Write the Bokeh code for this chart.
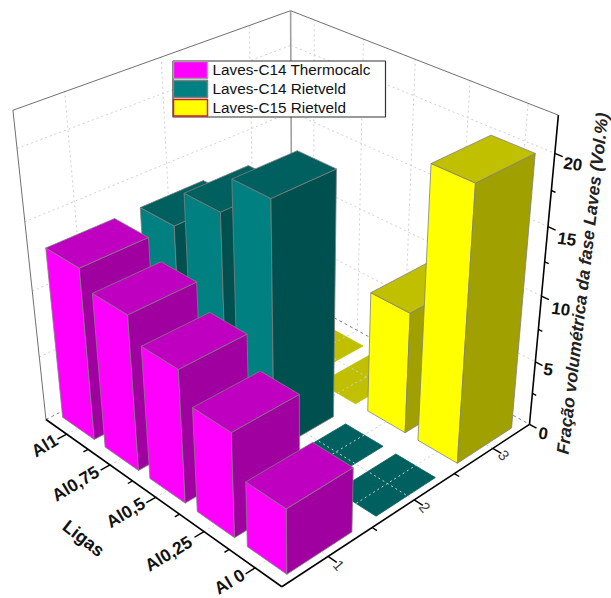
import numpy as np
from bokeh.plotting import figure
from bokeh.embed import file_html
from bokeh.resources import INLINE
from bokeh.core.properties import value

alloys = ["Al 0", "Al0,25", "Al0,5", "Al0,75", "Al1"]
columns = ["1", "2", "3"]
thermocalc = [4.9, 7.85, 10, 11.7, 13]
c14_rietveld = [0, 0, 18.5, 15.8, 13]
c15_rietveld = [20.2, 9.3, 0, 0, 0]
z_ticks = [0, 5, 10, 15, 20]
BAR = 0.75
BAR_U = 0.72
U0, U1, V0, V1, W1 = 0.5, 3.5, 0.5, 5.5, 22.5

cal3 = np.array([(U0,V0,0),(U1,V0,0),(U0,V1,0),(U0,V1,W1),(U1,V0,W1),(U1,V1,W1),
    (U1,V0,5),(U1,V0,10),(U1,V0,15),(U1,V0,20),(U0+.125,V0+.125,0),(3-.375,1-.375,0)],float)
cal2 = np.array([(279,587),(528,423),(45,419),(13,110),(558,113),(290,10),
    (535,362),(541,297),(547,227),(554,153),(288,573),(459,462)],float)
A=[];b=[]
for (X,Y,Z),(px,py) in zip(cal3,cal2):
    A.append([X,Y,Z,1,0,0,0,0,-px*X,-px*Y,-px*Z]);b.append(px)
    A.append([0,0,0,0,X,Y,Z,1,-py*X,-py*Y,-py*Z]);b.append(py)
h=np.linalg.lstsq(np.array(A),np.array(b),rcond=None)[0]
M=np.append(h,1).reshape(3,4)
def P(u,v,w=0):
    q=M@np.array([u,v,w,1.0])
    return q[0]/q[2],q[1]/q[2]

p=figure(width=611,height=598,x_range=(0,611),y_range=(598,0),output_backend="svg",toolbar_location=None,min_border=0)
p.xaxis.visible=False;p.yaxis.visible=False;p.xgrid.visible=False;p.ygrid.visible=False;p.outline_line_color=None

def seg(pts,color,width=1,dash="solid",alpha=1):
    xs=[[P(*a)[0],P(*c)[0]] for a,c in pts]; ys=[[P(*a)[1],P(*c)[1]] for a,c in pts]
    p.multi_line(xs,ys,line_color=color,line_width=width,line_dash=dash,line_alpha=alpha)

GRID="#d0d0d0"
wall=[]
for w in z_ticks[1:]:
    wall+= [((U0,V1,w),(U1,V1,w)),((U1,V1,w),(U1,V0,w))]
for i in range(1,4): wall.append(((i,V1,0),(i,V1,W1)))
for i in range(1,6): wall.append(((U1,i,0),(U1,i,W1)))
seg(wall,GRID,1,"2 3")
seg([((U0,V1,0),(U1,V1,0)),((U1,V1,0),(U1,V0,0))],"#808080",1,"3 3")
seg([((U0,V1,0),(U0,V1,W1)),((U0,V1,W1),(U1,V1,W1)),((U1,V1,W1),(U1,V0,W1))],"#707070",1)
seg([((U1,V1,0),(U1,V1,W1))],"#a0a0a0",1.6)

series=[(thermocalc,1,("#ff00ff","#c000c0","#a000a0")),(c14_rietveld,2,("#008080","#006060","#005050")),(c15_rietveld,3,("#ffff00","#c0c000","#a0a000"))]
def top(u,v,w):
    a,c=u-BAR/2,u-BAR/2+BAR_U; d,e=v-BAR/2,v+BAR/2
    return [P(a,d,w),P(c,d,w),P(c,e,w),P(a,e,w)]
def add(faces,lw=0.8):
    p.patches([[q[0] for q in f[0]] for f in faces],[[q[1] for q in f[0]] for f in faces],fill_color=[f[1] for f in faces],line_color=[f[2] for f in faces],line_width=lw)
flat=[]
for vals,u,c in series:
    for i,val in enumerate(vals):
        if val==0: flat.append((top(u,i+1,0),c[1],c[1]))
add(flat)
fl=[((i,V0,0),(i,V1,0)) for i in range(1,4)]+[((U0,i,0),(U1,i,0)) for i in range(1,6)]
seg(fl,GRID,1,"2 3")
faces=[]
EDGE="#808080"
for vals,u,c in reversed(series):
    for i in range(4,-1,-1):
        val=vals[i]
        if val==0: continue
        v=i+1;a,c2=u-BAR/2,u-BAR/2+BAR_U;d,e=v-BAR/2,v+BAR/2
        faces.append(([P(a,d,0),P(a,e,0),P(a,e,val),P(a,d,val)],c[0],EDGE))
        faces.append(([P(a,d,0),P(c2,d,0),P(c2,d,val),P(a,d,val)],c[2],EDGE))
        faces.append((top(u,v,val),c[1],EDGE))
add(faces)

# axes
seg([((U0,V0,0),(U0,V1,0)),((U0,V0,0),(U1,V0,0)),((U1,V0,0),(U1,V0,W1))],"#000000",1.6)
tk=[((U0,i,0),(U0-.1,i,0)) for i in range(1,6)]+[((i,V0,0),(i,V0-.16,0)) for i in range(1,4)]+[((U1,V0,w),(U1,V0-.13,w)) for w in z_ticks]
tk+=[((U0,i+.5,0),(U0-.05,i+.5,0)) for i in range(1,5)]+[((i+.5,V0,0),(i+.5,V0-.09,0)) for i in range(1,3)]+[((U1,V0,w+2.5),(U1,V0-.07,w+2.5)) for w in z_ticks[:-1]]
seg(tk,"#000000",1.4)

F=value("Liberation Sans")
ta=[44,75,125,168,229];tb=[445,483,512,553,581]
p.text(ta,tb,text=alloys[::-1],angle=np.radians(31),text_font=F,text_font_style="bold",text_font_size="17.5px",text_align="center",text_baseline="middle",text_color="#111111")
p.text([83],[538],text=["Ligas"],angle=np.radians(-38),text_font=F,text_font_style="bold",text_font_size="18px",text_align="center",text_baseline="middle",text_color="#111111")
p.text([338,424,503],[565,507,455],text=columns,angle=np.radians(-50),text_font=F,text_font_size="15px",text_align="center",text_baseline="middle",text_color="#444444")
p.text([538,543,551,557,563],[432,368,307,237,162],text=[str(z) for z in z_ticks],angle=np.radians(-8),text_font=F,text_font_style="bold",text_font_size="17px",text_align="left",text_baseline="middle",text_color="#111111")
p.text([582],[283],text=["Fração volumétrica da fase Laves (Vol.%)"],angle=np.radians(83.3),text_font=F,text_font_style="bold italic",text_font_size="17.5px",text_align="center",text_baseline="middle",text_color="#222222")

# legend
names=["Laves-C14 Thermocalc","Laves-C14 Rietveld","Laves-C15 Rietveld"]
p.quad(left=[172.5],right=[385],top=[60.5],bottom=[116.5],fill_color="white",line_color="#333333",line_width=1.2)
p.quad(left=[173,173,173],right=[207,207,207],top=[61,80,99],bottom=[78,97,115.5],fill_color=["#ff00ff","#008080","#ffff00"],line_color=["#a0a0a0","#808080","#d02020"],line_width=1.5)
p.text([212,212,212],[69,88,107],text=names,text_font=F,text_font_size="15.3px",text_baseline="middle",text_color="#111111")

open("out.html","w").write(file_html(p,INLINE))
